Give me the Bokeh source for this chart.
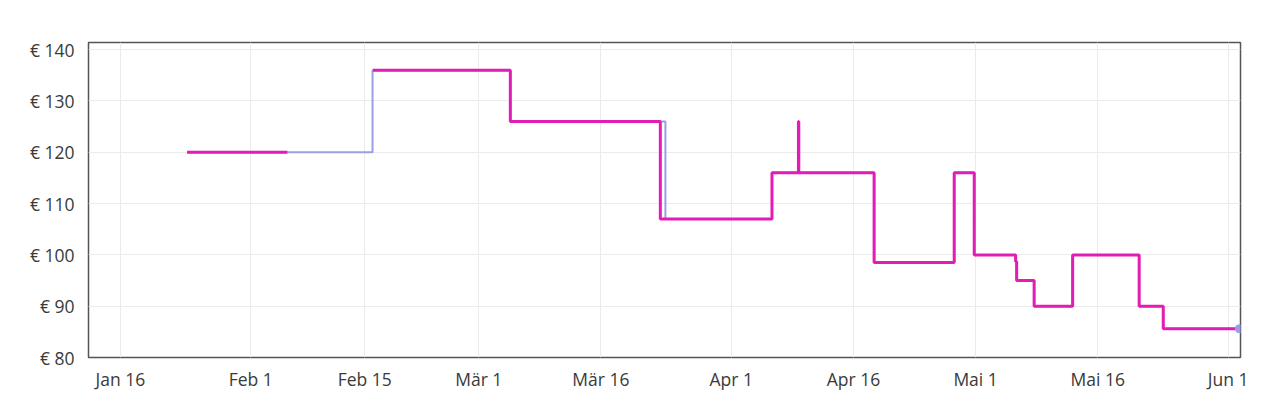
import pandas as pd
from bokeh.plotting import figure
from bokeh.models import FixedTicker, PrintfTickFormatter, Range1d
from bokeh.embed import file_html
from bokeh.resources import INLINE

# ---- data ----
ref_date = "2025-01-16"

blue_dates = ["2025-01-24 04:30", "2025-02-15 23:00", "2025-03-04 21:00", "2025-03-23 22:00",
              "2025-04-06 00:00", "2025-04-18 13:00", "2025-04-28 09:00", "2025-04-30 20:00",
              "2025-05-05 22:00", "2025-05-06 01:00", "2025-05-08 04:30", "2025-05-12 22:00",
              "2025-05-21 02:00", "2025-05-24 01:00", "2025-06-02 09:00"]
blue_prices = [120, 136, 126, 107, 116, 98.5, 116, 100, 98.7, 95, 90, 100, 90, 85.6, 85.6]

pink1_dates = ["2025-01-24 04:30", "2025-02-05 12:00"]
pink1_prices = [120, 120]

pink2_dates = ["2025-02-16 00:00", "2025-03-04 21:00", "2025-03-23 07:00", "2025-04-06 00:00",
               "2025-04-09 06:00", "2025-04-09 07:00", "2025-04-18 13:00", "2025-04-28 09:00",
               "2025-04-30 20:00", "2025-05-05 22:00", "2025-05-06 01:00", "2025-05-08 04:30",
               "2025-05-12 22:00", "2025-05-21 02:00", "2025-05-24 01:00", "2025-06-02 09:00"]
pink2_prices = [136, 126, 107, 116, 126, 116, 98.5, 116, 100, 98.7, 95, 90, 100, 90, 85.6, 85.6]

tick_dates = ["2025-01-16", "2025-02-01", "2025-02-15", "2025-03-01", "2025-03-16",
              "2025-04-01", "2025-04-16", "2025-05-01", "2025-05-16", "2025-06-01"]
tick_labels = ["Jan 16", "Feb 1", "Feb 15", "Mär 1", "Mär 16",
               "Apr 1", "Apr 16", "Mai 1", "Mai 16", "Jun 1"]
y_ticks = [80, 90, 100, 110, 120, 130, 140]

x_start_date = "2025-01-12 02:00"
y_min, y_max = 80, 141.4

# ---- helpers ----
ref = pd.Timestamp(ref_date)
def days(lst):
    return [(pd.Timestamp(d) - ref) / pd.Timedelta(days=1) for d in lst]

bx = days(blue_dates)
p1x = days(pink1_dates)
p2x = days(pink2_dates)
tx = days(tick_dates)

PINK = "#e21cb4"
BLUE = "#9b9de8"
FONT = "Open Sans"
TXT = "#3a3a3a"

p = figure(width=1280, height=402, output_backend="svg", toolbar_location=None,
           x_range=Range1d(days([x_start_date])[0], bx[-1] + 0.15),
           y_range=Range1d(y_min, y_max),
           min_border_left=88, min_border_right=40, min_border_top=42, min_border_bottom=45)

p.step(bx, blue_prices, mode="after", line_color=BLUE, line_width=2)
p.step(p1x, pink1_prices, mode="after", line_color=PINK, line_width=3)
p.step(p2x, pink2_prices, mode="after", line_color=PINK, line_width=3)
p.scatter([bx[-1]], [blue_prices[-1]], size=8, color=BLUE)

p.xaxis.ticker = FixedTicker(ticks=tx)
p.xaxis.major_label_overrides = {t: l for t, l in zip(tx, tick_labels)}
p.yaxis.ticker = FixedTicker(ticks=y_ticks)
p.yaxis.formatter = PrintfTickFormatter(format="€ %d")

for ax in (p.xaxis[0], p.yaxis[0]):
    ax.axis_line_color = None
    ax.major_tick_line_color = None
    ax.minor_tick_line_color = None
    ax.major_label_text_font = FONT
    ax.major_label_text_font_size = "17.5px"
    ax.major_label_text_color = TXT
p.xaxis.major_label_standoff = 3
p.yaxis.major_label_standoff = 8

p.xgrid.grid_line_color = "#ebebeb"
p.ygrid.grid_line_color = "#ebebeb"
p.outline_line_color = "#555555"
p.outline_line_width = 1.5
p.background_fill_color = "white"
p.border_fill_color = "white"

open("out.html", "w").write(file_html(p, INLINE))
